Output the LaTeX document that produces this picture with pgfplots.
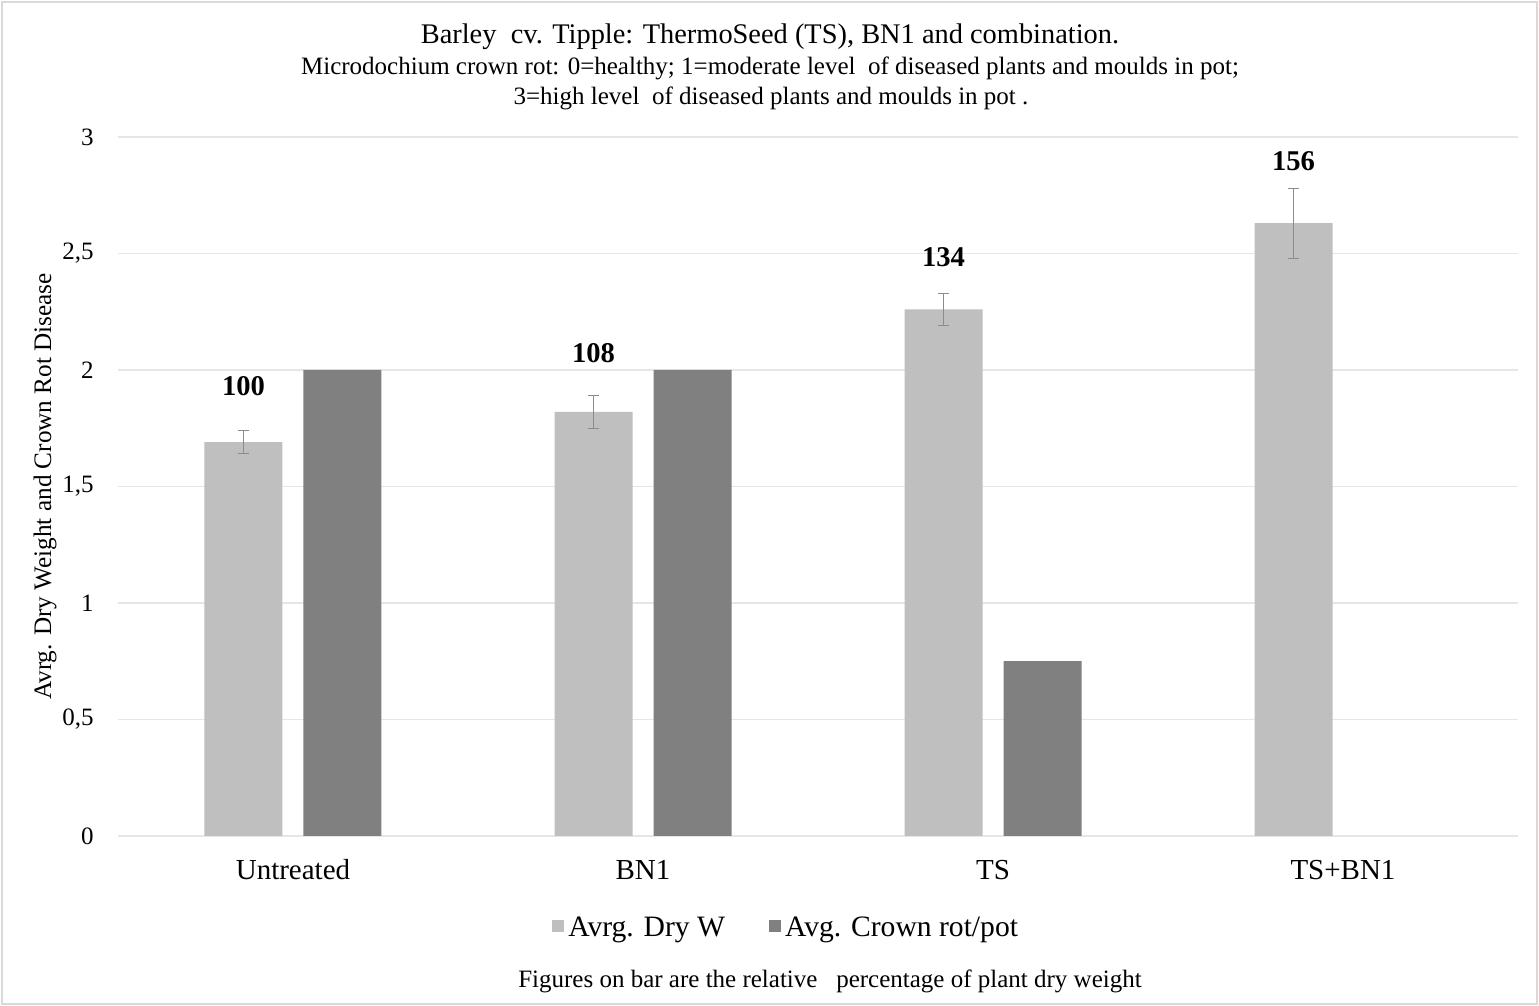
\documentclass[border=0pt]{standalone}
\usepackage{fontspec}
\setmainfont{Liberation Serif}
\usepackage{pgfplots}
\pgfplotsset{compat=1.18}

\definecolor{lightbar}{HTML}{BFBFBF}
\definecolor{darkbar}{HTML}{808080}
\definecolor{gridcol}{HTML}{E6E6E6}
\definecolor{errcol}{HTML}{8C8C8C}
\definecolor{framecol}{HTML}{D9D9D9}

\newcommand{\fs}[1]{\fontsize{#1}{1.2\dimexpr#1pt\relax}\selectfont}

\begin{document}
\begin{tikzpicture}
\path[use as bounding box] (0,0) rectangle (769.5pt,503pt);
\draw[framecol, line width=1pt] (1pt,1pt) rectangle (768.5pt,502pt);

% titles
\node[font=\fs{14.2}] at (385pt,484.5pt) {Barley\ \ cv. Tipple: ThermoSeed (TS), BN1 and combination.};
\node[font=\fs{12.5}] at (385pt,469pt) {Microdochium crown rot: 0=healthy; 1=moderate level\ \ of diseased plants and moulds in pot;};
\node[font=\fs{12.5}] at (385.5pt,454pt) {3=high level\ \ of diseased plants and moulds in pot .};

\begin{axis}[
  at={(59pt,85pt)}, anchor=south west,
  scale only axis, width=700pt, height=349.5pt,
  xmin=-0.5, xmax=3.5, ymin=0, ymax=3,
  axis line style={draw=none},
  major tick length=0pt,
  ymajorgrids, grid style={gridcol, line width=0.8pt},
  xtick={0,1,2,3},
  xticklabels={Untreated,BN1,TS,TS+BN1},
  ytick={0,0.5,1,1.5,2,2.5,3},
  /pgf/number format/use comma,
  /pgf/number format/assume math mode=true,
  xticklabel style={font=\fs{14.5}, anchor=center, yshift=-17pt},
  yticklabel style={font=\fs{12.5}, anchor=east, inner sep=0pt, xshift=-12pt},
  ylabel={Avrg. Dry Weight and Crown Rot Disease},
  ylabel style={font=\fs{12.6}, at={(axis description cs:-0.052,0.5)}, anchor=center},
  legend columns=2,
  legend style={at={(axis description cs:0.478,-0.1315)}, anchor=center,
    draw=none, fill=none, font=\fs{14.8},
    /tikz/every even column/.append style={column sep=20pt}},
]
  % average dry weight
  \addplot[ybar, bar width=39pt, bar shift=-24.75pt, fill=lightbar, draw=none,
    legend image code/.code={\fill[lightbar] (0pt,-2pt) rectangle (6pt,4pt);}]
    coordinates {(0,1.69) (1,1.82) (2,2.26) (3,2.63)};
  \addlegendentry{Avrg. Dry W}

  % crown rot per pot (none for TS+BN1)
  \addplot[ybar, bar width=39pt, bar shift=24.75pt, fill=darkbar, draw=none,
    legend image code/.code={\fill[darkbar] (0pt,-2pt) rectangle (6pt,4pt);}]
    coordinates {(0,2.0) (1,2.0) (2,0.75)};
  \addlegendentry{Avg. Crown rot/pot}

  % error bars of dry weight, at the light bar centres
  \addplot[forget plot, draw=none, no markers,
    error bars/.cd, y dir=both, y explicit,
    error bar style={draw=errcol, line width=0.6pt},
    error mark options={draw=errcol, rotate=90, mark size=2.75pt, line width=0.6pt}]
    coordinates {
      (-0.1414,1.69) +- (0,0.05)
      (0.8586,1.82) +- (0,0.07)
      (1.8586,2.26) +- (0,0.07)
      (2.8586,2.63) +- (0,0.15)
    };

  % relative dry weight labels
  \addplot[forget plot, only marks, mark=none, nodes near coords,
    point meta=explicit symbolic,
    every node near coord/.style={anchor=center, font=\fs{14.3}\bfseries}]
    coordinates {
      (-0.1414,1.93) [100]
      (0.8586,2.073) [108]
      (1.8586,2.485) [134]
      (2.8586,2.897) [156]
    };
\end{axis}

\node[font=\fs{12.5}] at (415pt,12.5pt) {Figures on bar are the relative\ \ \ percentage of plant dry weight};
\end{tikzpicture}
\end{document}
